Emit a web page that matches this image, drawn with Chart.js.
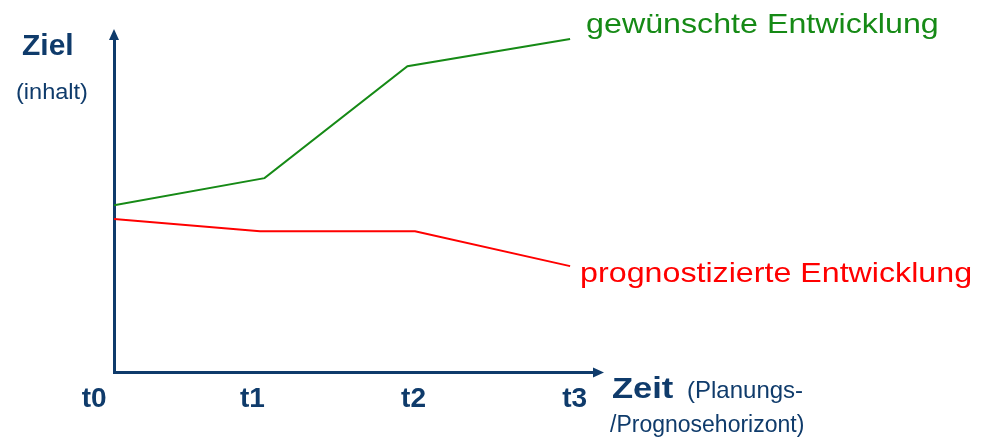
<!DOCTYPE html>
<html>
<head>
<meta charset="utf-8">
<script src="https://cdn.jsdelivr.net/npm/chart.js@4.4.1/dist/chart.umd.min.js"></script>
<style>
  html, body { margin: 0; padding: 0; background: #fff; }
  #wrap { width: 986px; height: 438px; position: relative; }
</style>
</head>
<body>
<div id="wrap"><canvas id="chart"></canvas></div>
<script>
const tickLabels = ['t0', 't1', 't2', 't3'];
const tickValues = [-0.13, 0.91, 1.97, 3.03];
const gewuenschtX = [0, 0.99, 1.93, 3.0];
const gewuenschtY = [49.4, 57.4, 90.5, 98.5];
const prognoseX = [0, 0.96, 1.98, 3.0];
const prognoseY = [45.3, 41.7, 41.7, 31.4];

const NAVY = '#0f3b6b';
const GREEN = '#168a16';
const RED = '#ff0000';
const FONT = '"Liberation Sans", Arial, sans-serif';

const toPoints = (xs, ys) => xs.map((x, i) => ({ x: x, y: ys[i] }));

// text drawn with a horizontal stretch, like the original bitmap
function drawLabel(ctx, text, x, y, font, color, sx) {
    ctx.save();
    ctx.font = font;
    ctx.fillStyle = color;
    ctx.textAlign = 'left';
    ctx.textBaseline = 'alphabetic';
    ctx.translate(x, y);
    ctx.scale(sx, 1);
    ctx.fillText(text, 0, 0);
    ctx.restore();
}

const arrowsAndText = {
    id: 'arrowsAndText',
    afterDraw(chart) {
        const ctx = chart.ctx;
        const area = chart.chartArea;
        const xs = chart.scales.x;
        const ys = chart.scales.y;
        ctx.save();

        // arrow heads
        ctx.fillStyle = NAVY;
        ctx.beginPath();
        ctx.moveTo(area.left, area.top - 5);
        ctx.lineTo(area.left - 5, area.top + 6);
        ctx.lineTo(area.left + 5, area.top + 6);
        ctx.closePath();
        ctx.fill();
        ctx.beginPath();
        ctx.moveTo(area.right + 5, area.bottom);
        ctx.lineTo(area.right - 6, area.bottom - 5);
        ctx.lineTo(area.right - 6, area.bottom + 5);
        ctx.closePath();
        ctx.fill();
        ctx.restore();

        // axis titles
        drawLabel(ctx, 'Ziel', 22, 55, 'bold 30px ' + FONT, NAVY, 1.0);
        drawLabel(ctx, '(inhalt)', 16, 99, '22px ' + FONT, NAVY, 1.07);
        drawLabel(ctx, 'Zeit', 612, 398, 'bold 30px ' + FONT, NAVY, 1.15);
        drawLabel(ctx, '(Planungs-', 687, 398, '24px ' + FONT, NAVY, 1.0);
        drawLabel(ctx, '/Prognosehorizont)', 610, 432, '23px ' + FONT, NAVY, 1.0);

        // series labels at line ends
        const gx = xs.getPixelForValue(gewuenschtX[gewuenschtX.length - 1]);
        const gy = ys.getPixelForValue(gewuenschtY[gewuenschtY.length - 1]);
        drawLabel(ctx, 'gewünschte Entwicklung', gx + 16, gy - 6, '28px ' + FONT, GREEN, 1.15);

        const px = xs.getPixelForValue(prognoseX[prognoseX.length - 1]);
        const py = ys.getPixelForValue(prognoseY[prognoseY.length - 1]);
        drawLabel(ctx, 'prognostizierte Entwicklung', px + 10, py + 16, '28px ' + FONT, RED, 1.15);
    }
};

new Chart(document.getElementById('chart'), {
    type: 'line',
    data: {
        datasets: [{
            label: 'gewünschte Entwicklung',
            data: toPoints(gewuenschtX, gewuenschtY),
            borderColor: GREEN,
            borderWidth: 2,
            pointRadius: 0,
            tension: 0
        }, {
            label: 'prognostizierte Entwicklung',
            data: toPoints(prognoseX, prognoseY),
            borderColor: RED,
            borderWidth: 2,
            pointRadius: 0,
            tension: 0
        }]
    },
    options: {
        responsive: true,
        maintainAspectRatio: false,
        animation: false,
        layout: {
            padding: { left: 114, right: 387, top: 34, bottom: 12 }
        },
        plugins: {
            legend: { display: false },
            tooltip: { enabled: false }
        },
        scales: {
            x: {
                type: 'linear',
                min: 0,
                max: 3.19,
                grid: { display: false, drawTicks: false },
                border: { display: true, color: NAVY, width: 3 },
                afterBuildTicks: scale => {
                    scale.ticks = tickValues.map(v => ({ value: v }));
                },
                ticks: {
                    autoSkip: false,
                    maxRotation: 0,
                    padding: 10,
                    color: NAVY,
                    font: { family: FONT, size: 28, weight: 'bold' },
                    callback: (value, index) => tickLabels[index]
                }
            },
            y: {
                min: 0,
                max: 100,
                grid: { display: false, drawTicks: false },
                border: { display: true, color: NAVY, width: 3 },
                ticks: { display: false }
            }
        }
    },
    plugins: [arrowsAndText]
});
</script>
</body>
</html>
